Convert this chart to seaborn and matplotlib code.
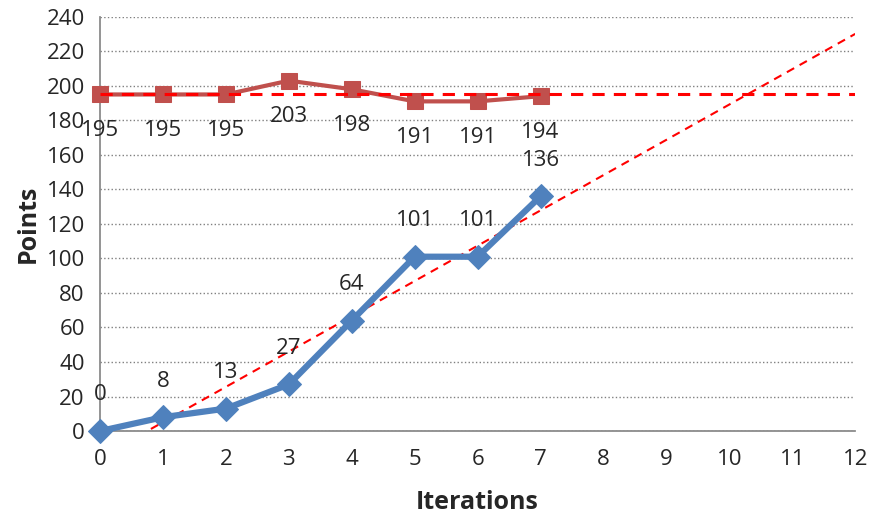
import numpy as np
import pandas as pd
import matplotlib
matplotlib.use("Agg")
import matplotlib.pyplot as plt
import seaborn as sns

iterations = [0, 1, 2, 3, 4, 5, 6, 7]
red_points = [195, 195, 195, 203, 198, 191, 191, 194]
blue_points = [0, 8, 13, 27, 64, 101, 101, 136]
x_ticks = list(range(0, 13))
y_ticks = list(range(0, 241, 20))

sns.set_theme(style="white")
plt.rcParams['font.family'] = ['Open Sans', 'DejaVu Sans']

df = pd.DataFrame({"it": iterations, "red": red_points, "blue": blue_points})

fig = plt.figure(figsize=(8.7, 5.25), dpi=100)
ax = fig.add_axes([0.115, 0.179, 0.868, 0.789])

RED = "#C0504D"
BLUE = "#4F81BD"

# trend lines
xt = np.array([0, 12])
slope, icpt = np.polyfit(iterations, blue_points, 1)
ax.plot(xt, slope * xt + icpt, ls=(0, (4, 3)), color="#FF0000", lw=1.5, zorder=2)
ax.plot(xt, [np.mean(red_points)] * 2, ls=(0, (4, 3)), color="#FF0000", lw=2.2, zorder=4)

sns.lineplot(data=df, x="it", y="red", ax=ax, color=RED, lw=3, marker="s",
             markersize=11, markeredgecolor=RED, zorder=3, clip_on=False)
sns.lineplot(data=df, x="it", y="blue", ax=ax, color=BLUE, lw=4.5, marker="D",
             markersize=12, markeredgecolor=BLUE, zorder=3, clip_on=False)

for x, y in zip(iterations, blue_points):
    ax.annotate(str(y), (x, y), xytext=(0, 26), textcoords="offset points",
                ha="center", va="center", fontsize=16)
for x, y in zip(iterations, red_points):
    ax.annotate(str(y), (x, y), xytext=(0, -26), textcoords="offset points",
                ha="center", va="center", fontsize=16)

ax.set_xlim(0, 12)
ax.set_ylim(0, 240)
ax.set_xticks(x_ticks)
ax.set_yticks(y_ticks)
ax.tick_params(axis="both", labelsize=16, length=5, color="#868686", direction="out")
ax.tick_params(axis="x", pad=8)
ax.tick_params(axis="y", pad=6)
ax.yaxis.grid(True, ls=":", color="#808080", lw=1)
ax.set_axisbelow(True)
for s in ["top", "right"]:
    ax.spines[s].set_visible(False)
for s in ["left", "bottom"]:
    ax.spines[s].set_color("#868686")
ax.set_xlabel("Iterations", fontsize=18, fontweight="bold", labelpad=14)
ax.set_ylabel("Points", fontsize=18, fontweight="bold", labelpad=4)

fig.savefig("out.png", dpi=100)
